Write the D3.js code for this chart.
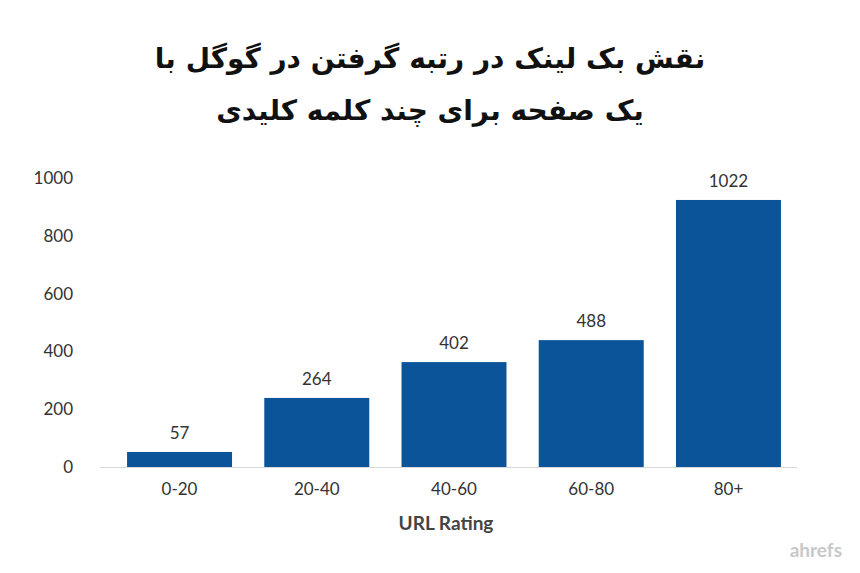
<!DOCTYPE html><html><head><meta charset="utf-8"><script src="https://cdn.jsdelivr.net/npm/d3@7"></script>
<style>body{margin:0;background:#fff}</style></head><body><svg id="c" width="860" height="573"></svg>
<script>
const categories=["0-20","20-40","40-60","60-80","80+"];
const barValues=[52,239,363,439,924];
const valueLabels=["57","264","402","488","1022"];
const yTicks=[0,200,400,600,800,1000];
const titleLines=["نقش بک لینک در رتبه گرفتن در گوگل با","یک صفحه برای چند کلمه کلیدی"];
const svg=d3.select("#c");
const x=d3.scaleBand().domain(categories).range([111,797]).paddingInner(0.235).paddingOuter(0.117);
const y=d3.scaleLinear().domain([0,1000]).range([467,178]);
svg.selectAll(".t").data(titleLines).join("text").attr("x",430).attr("y",(d,i)=>68+i*52).attr("text-anchor","middle").attr("direction","rtl")
 .attr("font-family","DejaVu Sans").attr("font-weight","bold").attr("font-size",28).attr("fill","#111").text(d=>d);
svg.selectAll(".yt").data(yTicks).join("text").attr("x",73).attr("y",d=>y(d)+6).attr("text-anchor","end").attr("font-family","Lato").attr("font-size",17).attr("fill","#333").text(d=>d);
svg.selectAll(".b").data(categories).join("rect").attr("x",d=>x(d)).attr("width",x.bandwidth()).attr("y",(d,i)=>y(barValues[i])).attr("height",(d,i)=>y(0)-y(barValues[i])).attr("fill","#0b5499");
svg.append("line").attr("x1",100).attr("x2",797).attr("y1",467.5).attr("y2",467.5).attr("stroke","#d9d9d9");
svg.selectAll(".vl").data(categories).join("text").attr("x",d=>x(d)+x.bandwidth()/2).attr("y",(d,i)=>y(barValues[i])-13).attr("text-anchor","middle").attr("font-family","Lato").attr("font-size",17).attr("fill","#333").text((d,i)=>valueLabels[i]);
svg.selectAll(".xl").data(categories).join("text").attr("x",d=>x(d)+x.bandwidth()/2).attr("y",495).attr("text-anchor","middle").attr("font-family","Lato").attr("font-size",17).attr("fill","#333").text(d=>d);
svg.append("text").attr("x",446).attr("y",530).attr("text-anchor","middle").attr("font-family","Lato").attr("font-weight","bold").attr("font-size",19).attr("fill","#444").text("URL Rating");
svg.append("text").attr("x",842).attr("y",557).attr("text-anchor","end").attr("font-family","Lato").attr("font-weight","bold").attr("font-size",19).attr("fill","#c8c8c8").text("ahrefs");
</script></body></html>
